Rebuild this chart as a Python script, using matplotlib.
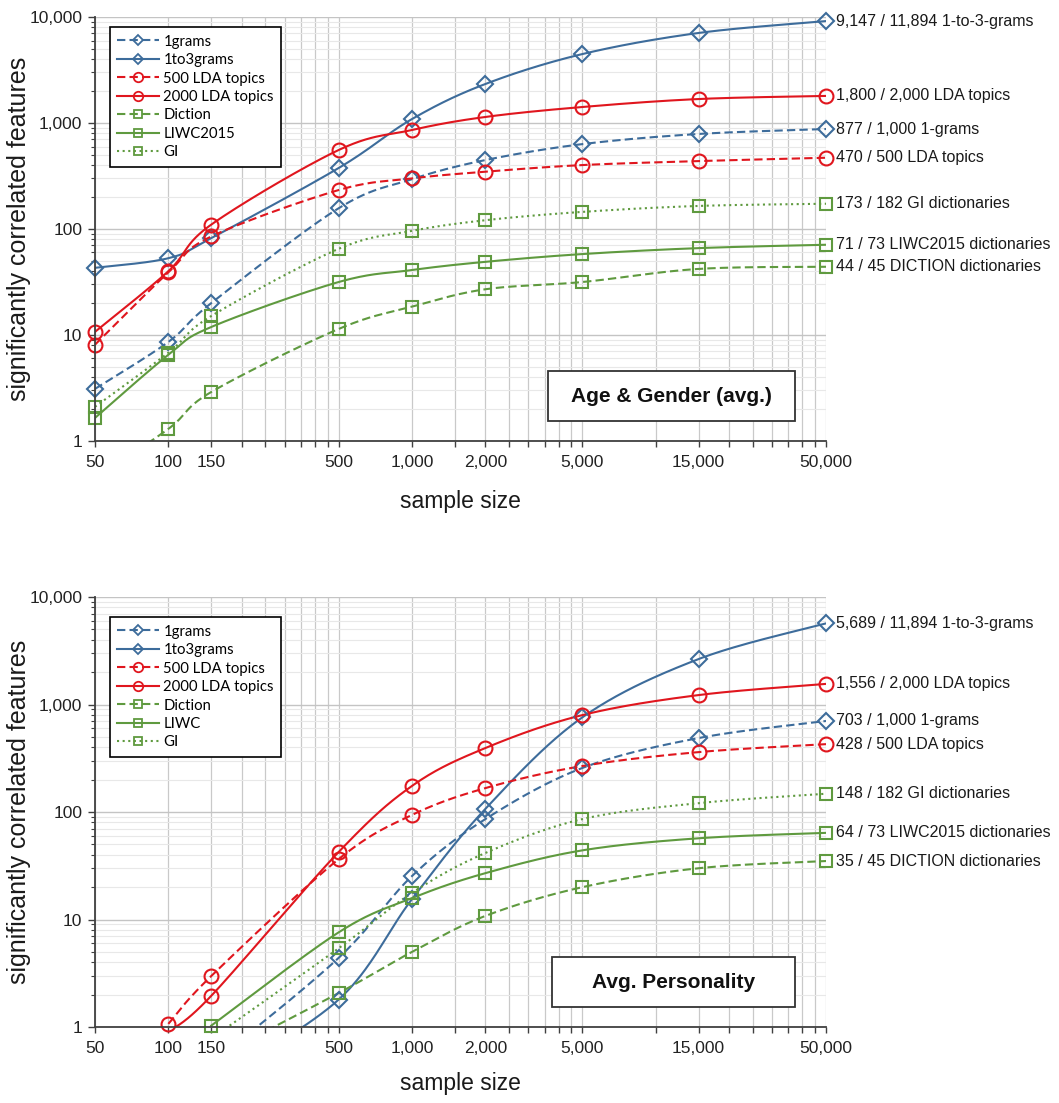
import matplotlib
matplotlib.use("Agg")
import matplotlib.pyplot as plt
import numpy as np
from matplotlib.lines import Line2D
from matplotlib.patches import Rectangle
from matplotlib.ticker import FixedLocator, FuncFormatter, LogLocator, NullFormatter

plt.rcParams["font.family"] = ["Liberation Sans", "DejaVu Sans"]

# === Data ===
SAMPLE_SIZES = [50, 100, 150, 500, 1000, 2000, 5000, 15000, 50000]
X_TICK_LABELS = ["50", "100", "150", "500", "1,000", "2,000", "5,000", "15,000", "50,000"]

SERIES_NAMES = ["1grams", "1to3grams", "500 LDA topics", "2000 LDA topics",
                "Diction", "LIWC2015", "GI"]
SERIES_NAMES_PERS = ["1grams", "1to3grams", "500 LDA topics", "2000 LDA topics",
                     "Diction", "LIWC", "GI"]

# Age & Gender (avg.)  -- values < 1 are hidden below the axis
AG_1GRAMS = [3.1, 8.6, 20, 157, 295, 447, 632, 788, 877]
AG_1TO3 = [43, 53, 82, 376, 1090, 2333, 4470, 7070, 9147]
AG_LDA500 = [8.1, 39, 85, 233, 300, 347, 401, 437, 470]
AG_LDA2000 = [10.7, 40, 110, 556, 859, 1140, 1415, 1683, 1800]
AG_DICTION = [0.45, 1.3, 2.9, 11.4, 18.5, 27, 31.6, 42, 44]
AG_LIWC = [1.65, 6.5, 11.9, 31.6, 41, 49, 58, 66, 71]
AG_GI = [2.1, 6.8, 15.1, 65, 96, 121, 145, 165, 173]
AG_END_LABELS = ["877 / 1,000 1-grams", "9,147 / 11,894 1-to-3-grams",
                 "470 / 500 LDA topics", "1,800 / 2,000 LDA topics",
                 "44 / 45 DICTION dictionaries", "71 / 73 LIWC2015 dictionaries",
                 "173 / 182 GI dictionaries"]

# Avg. Personality
NA = np.nan
PE_1GRAMS = [NA, NA, 0.45, 4.4, 25.4, 86, 257, 488, 703]
PE_1TO3 = [NA, NA, 0.3, 1.8, 15.5, 107, 760, 2650, 5689]
PE_LDA500 = [NA, 1.07, 2.98, 36.5, 94, 167, 268, 361, 428]
PE_LDA2000 = [NA, 0.9, 1.95, 42.5, 175, 394, 798, 1225, 1556]
PE_DICTION = [NA, NA, 0.5, 2.07, 5.0, 10.8, 20, 30, 35]
PE_LIWC = [NA, NA, 1.03, 7.6, 15.8, 27, 44, 57, 64]
PE_GI = [NA, NA, 0.78, 5.4, 17.7, 41.6, 86, 121, 148]
PE_END_LABELS = ["703 / 1,000 1-grams", "5,689 / 11,894 1-to-3-grams",
                 "428 / 500 LDA topics", "1,556 / 2,000 LDA topics",
                 "35 / 45 DICTION dictionaries", "64 / 73 LIWC2015 dictionaries",
                 "148 / 182 GI dictionaries"]

# === Styles ===
BLUE = "#3d6c9b"
RED = "#e0161e"
GREEN = "#5f9a3f"
DASH = (0, (4, 2))
DOT = (0, (1, 1.7))
STYLES = [
    (BLUE, DASH, "D", 8.0),
    (BLUE, "-", "D", 8.0),
    (RED, DASH, "o", 10.0),
    (RED, "-", "o", 10.0),
    (GREEN, DASH, "s", 9.2),
    (GREEN, "-", "s", 9.2),
    (GREEN, DOT, "s", 9.2),
]
LW = 1.5


def smooth(xs, ys, sx=243.7, sy=106.0, n=40):
    """Excel-like smoothed line: Catmull-Rom Bezier in log-log screen space."""
    pts = [(np.log10(x) * sx, np.log10(y) * sy)
           for x, y in zip(xs, ys) if not np.isnan(y)]
    P = np.array(pts)
    out = [P[0]]
    t = np.linspace(0, 1, n)[1:, None]
    for i in range(len(P) - 1):
        p0 = P[i - 1] if i > 0 else P[i]
        p1, p2 = P[i], P[i + 1]
        p3 = P[i + 2] if i + 2 < len(P) else P[i + 1]
        c1 = p1 + (p2 - p0) / 6
        c2 = p2 - (p3 - p1) / 6
        b = (1 - t) ** 3 * p1 + 3 * (1 - t) ** 2 * t * c1 + 3 * (1 - t) * t ** 2 * c2 + t ** 3 * p2
        out.extend(b)
    out = np.array(out)
    return 10 ** (out[:, 0] / sx), 10 ** (out[:, 1] / sy)


def draw_panel(ax, series, end_labels, legend_names, title, box):
    for vals, (color, ls, mk, ms), lab in zip(series, STYLES, end_labels):
        sx, sy = smooth(SAMPLE_SIZES, vals)
        ax.plot(sx, sy, color=color, ls=ls, lw=LW, zorder=3)
        xs = [x for x, v in zip(SAMPLE_SIZES, vals) if not np.isnan(v) and v >= 0.95]
        ys = [v for v in vals if not np.isnan(v) and v >= 0.95]
        ax.plot(xs, ys, ls="none", marker=mk, ms=ms, mfc="none", mec=color,
                mew=1.5, clip_on=False, zorder=4)
        ax.annotate(lab, xy=(SAMPLE_SIZES[-1], vals[-1]), xytext=(7, 0),
                    textcoords="offset points", va="center", ha="left",
                    fontsize=11.5, color="#1a1a1a", annotation_clip=False)

    ax.set_xscale("log")
    ax.set_yscale("log")
    ax.set_xlim(50, 50000)
    ax.set_ylim(1, 10000)

    ax.xaxis.set_major_locator(FixedLocator(SAMPLE_SIZES))
    ax.xaxis.set_major_formatter(FuncFormatter(lambda v, p: X_TICK_LABELS[SAMPLE_SIZES.index(int(round(v)))]
                                               if int(round(v)) in SAMPLE_SIZES else ""))
    grid_x = [50 * k * 10 ** e for e in range(3) for k in range(1, 10)] + [50000]
    ax.xaxis.set_minor_locator(FixedLocator(grid_x))
    ax.xaxis.set_minor_formatter(NullFormatter())

    ax.yaxis.set_major_locator(FixedLocator([1, 10, 100, 1000, 10000]))
    ax.yaxis.set_major_formatter(FuncFormatter(lambda v, p: f"{int(v):,}"))
    ax.yaxis.set_minor_locator(LogLocator(base=10, subs=np.arange(2, 10)))
    ax.yaxis.set_minor_formatter(NullFormatter())

    ax.tick_params(axis="x", which="both", direction="out", length=4, width=1,
                   color="#404040", labelsize=12.5, labelcolor="#222222", pad=6)
    ax.tick_params(axis="y", which="major", direction="out", length=5, width=1,
                   color="#404040", labelsize=12.5, labelcolor="#222222", pad=4)
    ax.tick_params(axis="y", which="minor", direction="out", length=3, width=0.8,
                   color="#404040")

    ax.grid(True, axis="x", which="both", color="#c9c9c9", lw=0.9, zorder=0)
    ax.grid(True, axis="y", which="major", color="#c4c4c4", lw=1.0, zorder=0)
    ax.grid(True, axis="y", which="minor", color="#e8e8e8", lw=0.8, zorder=0)
    ax.set_axisbelow(True)

    for side in ("top", "right"):
        ax.spines[side].set_visible(False)
    for side in ("left", "bottom"):
        ax.spines[side].set_color("#404040")
        ax.spines[side].set_linewidth(1.3)
        ax.spines[side].set_zorder(5)

    ax.set_ylabel("significantly correlated features", fontsize=18, color="#1a1a1a")
    ax.yaxis.set_label_coords(-0.088, 0.5)
    ax.set_xlabel("sample size", fontsize=16.5, color="#1a1a1a")

    handles = [Line2D([], [], color=c, ls=ls, lw=LW, marker=mk, ms=ms * 0.68,
                      mfc="none", mec=c, mew=1.3)
               for (c, ls, mk, ms) in STYLES]
    leg = ax.legend(handles, legend_names, loc="upper left",
                    bbox_to_anchor=box["legend"], borderaxespad=0,
                    handlelength=2.8, handletextpad=0.3,
                    labelspacing=0.3, borderpad=0.5, fancybox=False,
                    framealpha=1, edgecolor="black",
                    prop={"family": ["Lato", "DejaVu Sans"], "size": 10.7})
    leg.get_frame().set_linewidth(1.2)
    leg.set_zorder(6)

    x0, y0, w, h = box["rect"]
    ax.add_patch(Rectangle((x0, y0), w, h, transform=ax.transAxes, fill=True,
                           facecolor="white", edgecolor="#333333", lw=1.3, zorder=6))
    ax.text(x0 + w / 2, y0 + h / 2, title, transform=ax.transAxes, ha="center",
            va="center", fontsize=15, fontweight="bold", color="#111111", zorder=7)


def main() -> None:
    fig = plt.figure(figsize=(10.59, 11.03), dpi=100)
    ax1 = fig.add_axes([0.0897, 0.6002, 0.6903, 0.3844])
    ax2 = fig.add_axes([0.0897, 0.0689, 0.6903, 0.3898])

    draw_panel(ax1,
               [AG_1GRAMS, AG_1TO3, AG_LDA500, AG_LDA2000, AG_DICTION, AG_LIWC, AG_GI],
               AG_END_LABELS, SERIES_NAMES, "Age & Gender (avg.)",
               {"legend": (0.0205, 0.976), "rect": (0.620, 0.047, 0.338, 0.118)})
    ax1.xaxis.set_label_coords(0.5, -0.115)

    draw_panel(ax2,
               [PE_1GRAMS, PE_1TO3, PE_LDA500, PE_LDA2000, PE_DICTION, PE_LIWC, PE_GI],
               PE_END_LABELS, SERIES_NAMES_PERS, "Avg. Personality",
               {"legend": (0.0205, 0.953), "rect": (0.625, 0.0465, 0.332, 0.116)})
    ax2.xaxis.set_label_coords(0.5, -0.105)

    fig.savefig("out.png", dpi=100, facecolor="white")


if __name__ == "__main__":
    main()
